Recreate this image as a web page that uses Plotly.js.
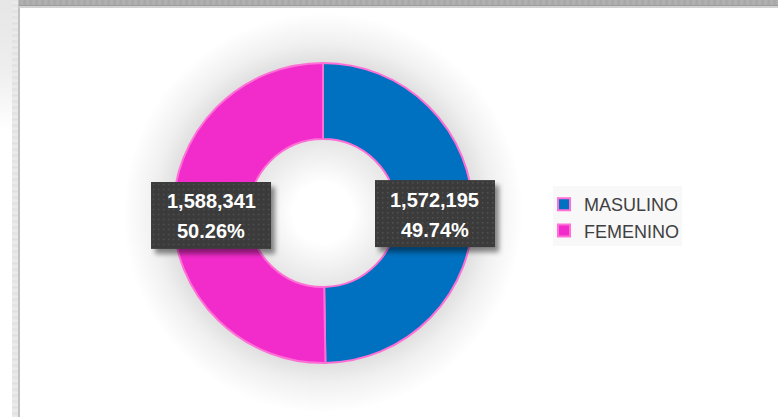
<!DOCTYPE html>
<html>
<head>
<meta charset="utf-8">
<script src="https://cdn.plot.ly/plotly-3.0.1.min.js"></script>
<style>
html,body{margin:0;padding:0;background:#fff;}
#wrap{position:relative;width:778px;height:417px;overflow:hidden;background:#fff;}
#leftA{position:absolute;left:0;top:0;width:12px;height:417px;background:linear-gradient(#e6e6e6 0px,#eeeeee 70px,#ffffff 130px);}
#leftB{position:absolute;left:12px;top:0;width:6px;height:417px;background:repeating-linear-gradient(#e4e4e4 0px,#ececec 3px,#dedede 6px);}
#leftC{position:absolute;left:18px;top:0;width:2px;height:417px;background:#c2c2c2;}
#topA{position:absolute;left:19px;top:0;width:759px;height:5px;background:repeating-linear-gradient(90deg,#a9a9a9 0px,#b2b2b2 3px,#a4a4a4 6px);}
#topB{position:absolute;left:19px;top:5px;width:759px;height:1px;background:#9c9c9c;}
#topC{position:absolute;left:19px;top:6px;width:759px;height:2px;background:#d2d2d2;}
#glow{position:absolute;left:0;top:0;width:778px;height:417px;
 background:radial-gradient(circle at 323px 213px, rgba(0,0,0,0) 0px, rgba(0,0,0,0) 30px, rgba(0,0,0,0.1) 75px, rgba(0,0,0,0) 80px, rgba(0,0,0,0) 146px, rgba(0,0,0,0.12) 151px, rgba(0,0,0,0.06) 170px, rgba(0,0,0,0) 200px);}
#legbg{position:absolute;left:553px;top:186px;width:129px;height:60px;background:#f8f8f8;}
#chart{position:absolute;left:0;top:0;width:778px;height:417px;}
</style>
</head>
<body>
<div id="wrap">
 <div id="leftA"></div><div id="leftB"></div><div id="leftC"></div>
 <div id="topA"></div><div id="topB"></div><div id="topC"></div>
 <div id="glow"></div>
 <div id="legbg"></div>
 <div id="chart"></div>
</div>
<script>
// ---- data ----
const categories = ["MASULINO", "FEMENINO"];
const values = [1572195, 1588341];
const colors = ["#0070C0", "#F22BCB"];

// ---- layout helpers ----
const W = 778, H = 417;
const CX = 323, CY = 213, R = 150, HOLE = 0.493;
const dom = {x: [(CX - R) / W, (CX + R) / W], y: [1 - (CY + R) / H, 1 - (CY - R) / H]};
const px2x = p => p / W;
const py2y = p => 1 - p / H;

const total = values.reduce((a, b) => a + b, 0);
const fmt = n => n.toLocaleString("en-US");

const annotations = [];
const images = [];
const rMid = R * (1 + HOLE) / 2;
let cum = 0;
values.forEach((v, i) => {
  const f = v / total;
  const mid = cum + f / 2;
  cum += f;
  const th = mid * 2 * Math.PI;
  const lx = CX + rMid * Math.sin(th);
  const ly = CY - rMid * Math.cos(th) + 1.5;
  const bw = 120, bh = 67;
  const svg = '<svg xmlns="http://www.w3.org/2000/svg" width="132" height="80" viewBox="0 0 132 80">' +
    '<defs><filter id="b" x="-20%" y="-20%" width="140%" height="140%"><feGaussianBlur stdDeviation="2.5"/></filter>' +
    '<pattern id="p" width="5" height="5" patternUnits="userSpaceOnUse"><rect width="5" height="5" fill="#3b3b3b"/><rect x="2" y="2" width="1.4" height="1.4" fill="#555555"/></pattern></defs>' +
    '<rect x="4" y="5" width="' + bw + '" height="' + bh + '" fill="rgba(0,0,0,0.45)" filter="url(#b)"/>' +
    '<rect x="0" y="0" width="' + bw + '" height="' + bh + '" fill="url(#p)"/></svg>';
  images.push({
    source: "data:image/svg+xml;charset=utf-8," + encodeURIComponent(svg),
    xref: "paper", yref: "paper",
    x: px2x(lx - bw / 2), y: py2y(ly - bh / 2),
    sizex: 132 / W, sizey: 80 / H,
    xanchor: "left", yanchor: "top", sizing: "stretch", layer: "above"
  });
  const pct = (f * 100).toFixed(2) + "%";
  [[fmt(v), -14], [pct, 16]].forEach(([t, dy]) => {
    annotations.push({
      xref: "paper", yref: "paper", x: px2x(lx), y: py2y(ly + dy),
      xanchor: "center", yanchor: "middle", showarrow: false,
      text: "<b>" + t + "</b>",
      font: {family: "Liberation Sans, Arial, sans-serif", size: 20, color: "#ffffff"}
    });
  });
});

const trace = {
  type: "pie",
  labels: categories,
  values: values,
  hole: HOLE,
  sort: false,
  direction: "clockwise",
  rotation: 0,
  domain: dom,
  textinfo: "none",
  hoverinfo: "label+value+percent",
  marker: {colors: colors, line: {color: "#FF6FD6", width: 2}}
};

const layout = {
  width: W, height: H,
  margin: {l: 0, r: 0, t: 0, b: 0},
  paper_bgcolor: "rgba(0,0,0,0)",
  plot_bgcolor: "rgba(0,0,0,0)",
  showlegend: true,
  legend: {
    x: px2x(544), y: py2y(186), xanchor: "left", yanchor: "top",
    bgcolor: "rgba(0,0,0,0)",
    font: {family: "Liberation Sans, Arial, sans-serif", size: 18, color: "#404040"},
    itemwidth: 30
  },
  annotations: annotations,
  images: images
};

Plotly.newPlot("chart", [trace], layout, {displayModeBar: false, staticPlot: true});
</script>
</body>
</html>
